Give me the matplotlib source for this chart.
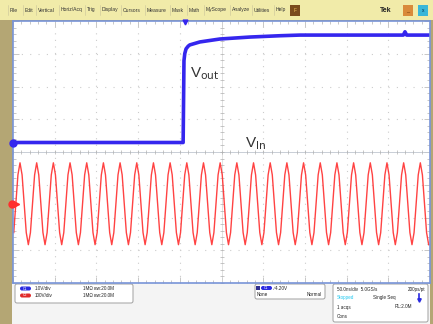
import numpy as np
import matplotlib.pyplot as plt
from matplotlib.patches import FancyBboxPatch, Rectangle

plt.rcParams['font.family'] = ['Liberation Sans', 'DejaVu Sans']

# scope settings (from the status panel)
ch1_scale = 1.0     # V/div
ch2_scale = 100.0   # V/div
ch1_offset = 0.29   # div
ch2_offset = -1.58  # div
trig_pos = 4.12     # div

# Vout on ch1: time in divisions, volts
vout_t = [0.0, 4.08, 4.10, 4.12, 4.15, 4.20, 4.24, 4.48, 4.96, 5.68, 6.40,
          6.88, 8.08, 9.28, 9.36, 9.40, 9.44, 10.0]
vout_v = [0.0, 0.0, 2.50, 2.72, 2.86, 2.94, 2.98, 3.07, 3.16, 3.22, 3.26,
          3.28, 3.28, 3.28, 3.28, 3.38, 3.28, 3.28]

# Vin on ch2: volts, one sample every 0.05 div starting at 0.018 div
vin_t0 = 0.018
vin_dt = 0.05
vin_v = [
    -88, 0, 88, 125, 88, 0, -88, -125,
    -88, 0, 88, 125, 88, 0, -88, -125,
    -88, 0, 88, 125, 88, 0, -88, -125,
    -88, 0, 88, 125, 88, 0, -88, -125,
    -88, 0, 88, 125, 88, 0, -88, -125,
    -88, 0, 88, 125, 88, 0, -88, -125,
    -88, 0, 88, 125, 88, 0, -88, -125,
    -88, 0, 88, 125, 88, 0, -88, -125,
    -88, 0, 88, 125, 88, 0, -88, -125,
    -88, 0, 88, 125, 88, 0, -88, -125,
    -88, 0, 88, 125, 88, 0, -88, -125,
    -88, 0, 88, 125, 88, 0, -88, -125,
    -88, 0, 88, 125, 88, 0, -88, -125,
    -88, 0, 88, 125, 88, 0, -88, -125,
    -88, 0, 88, 125, 88, 0, -88, -125,
    -88, 0, 88, 125, 88, 0, -88, -125,
    -88, 0, 88, 125, 88, 0, -88, -125,
    -88, 0, 88, 125, 88, 0, -88, -125,
    -88, 0, 88, 125, 88, 0, -88, -125,
    -88, 0, 88, 125, 88, 0, -88, -125,
    -88, 0, 88, 125, 88, 0, -88, -125,
    -88, 0, 88, 125, 88, 0, -88, -125,
    -88, 0, 88, 125, 88, 0, -88, -125,
    -88, 0, 88, 125, 88, 0, -88, -125,
    -88, 0, 88, 125, 88, 0, -88, -125,
]

menu_items = ["File", "Edit", "Vertical", "Horiz/Acq", "Trig", "Display",
              "Cursors", "Measure", "Mask", "Math", "MyScope", "Analyze",
              "Utilities", "Help"]
menu_x = [10, 25, 38, 61, 87, 102, 123, 147, 172, 189, 206, 232, 254, 276]

blue = "#3526ee"
red = "#ff2e2e"

fig = plt.figure(figsize=(4.33, 3.24), dpi=100, facecolor="#b4a674")

# background / UI layer in pixel coordinates
ui = fig.add_axes([0, 0, 1, 1], zorder=0)
ui.set_xlim(0, 433)
ui.set_ylim(324, 0)
ui.axis("off")

ui.add_patch(Rectangle((0, 0), 433, 19.5, color="#f1eba9", lw=0))
ui.add_patch(Rectangle((12, 283), 418, 41, color="#f4f4f4", lw=0))
for name, x in zip(menu_items, menu_x):
    ui.text(x, 10, name, fontsize=3.6, color="#333333", va="center")
    ui.plot([x - 2.5, x - 2.5], [5, 15], color="#c8c39a", lw=0.4)
ui.add_patch(Rectangle((290, 5), 10, 11, color="#7a4a1e", lw=0))
ui.text(295, 10.5, "F", fontsize=3.5, color="#f0c060", ha="center", va="center")
ui.text(380, 10, "Tek", fontsize=5, color="#222222", weight="bold", va="center")
ui.add_patch(Rectangle((403, 5), 10, 11, color="#d98a3a", lw=0))
ui.text(408, 11, "_", fontsize=4, color="#5a2a00", ha="center", va="center")
ui.add_patch(Rectangle((418, 5), 10, 11, color="#3ab6d8", lw=0))
ui.text(423, 10.5, "x", fontsize=3.5, color="#003050", ha="center", va="center")

# status boxes
def box(x, y, w, h):
    ui.add_patch(FancyBboxPatch((x, y), w, h, boxstyle="round,pad=0,rounding_size=2",
                                fc="white", ec="#a0a0a0", lw=0.7))

def pill(x, y, color, label):
    ui.add_patch(FancyBboxPatch((x, y - 2), 11, 4, boxstyle="round,pad=0,rounding_size=2",
                                fc=color, ec="none"))
    ui.text(x + 5.5, y, label, fontsize=2.5, color="white", ha="center", va="center")

box(15, 284, 118, 19)
pill(20, 288.5, "#2a2ae0", "C1")
ui.text(35, 288.5, "1.0V/div", fontsize=3.3, color="#222222", va="center")
ui.text(83, 288.5, "1M\u03a9 \u0299w:20.0M", fontsize=3.3, color="#222222", va="center")
pill(20, 295.5, "#e02a2a", "C2")
ui.text(35, 295.5, "100V/div", fontsize=3.3, color="#222222", va="center")
ui.text(83, 295.5, "1M\u03a9 \u0299w:20.0M", fontsize=3.3, color="#222222", va="center")

box(255, 284, 70, 15)
ui.add_patch(Rectangle((256, 286), 4, 4, color="#303090", lw=0))
pill(261, 288, "#2a2ae0", "C1")
ui.text(274, 288, "\u2215 4.20V", fontsize=3.3, color="#222222", va="center")
ui.text(257, 295, "None", fontsize=3.3, color="#222222", va="center")
ui.text(322, 295, "Normal", fontsize=3.3, color="#222222", va="center", ha="right")

box(333, 284, 95, 38)
ui.text(337, 289.5, "50.0ns/div  5.0GS/s", fontsize=3.3, color="#222222", va="center")
ui.text(425, 289.5, "200ps/pt", fontsize=3.3, color="#222222", va="center", ha="right")
ui.text(337, 298, "Stopped", fontsize=3.3, color="#20c8f0", va="center")
ui.text(373, 298, "Single Seq", fontsize=3.3, color="#222222", va="center")
ui.plot([419, 419], [294, 300], color="#2a2ae0", lw=1.2)
ui.plot([419], [300], marker="v", color="#2a2ae0", ms=2.5)
ui.text(337, 307, "1 acqs", fontsize=3.3, color="#222222", va="center")
ui.text(412, 307, "RL:2.0M", fontsize=3.3, color="#222222", va="center", ha="right")
ui.text(337, 316, "Cons", fontsize=3.3, color="#222222", va="center")

# graticule
ax = fig.add_axes([13 / 433, (324 - 283) / 324, 417 / 433, 262 / 324], zorder=1)
ax.set_facecolor("white")
ax.set_xlim(0, 10)
ax.set_ylim(-4, 4)
for i in range(1, 10):
    if i != 5:
        ax.axvline(i, color="#cccccc", lw=0.8, ls=(0, (1, 4.9)))
for j in range(-3, 4):
    if j != 0:
        ax.axhline(j, color="#cccccc", lw=0.8, ls=(0, (1, 6.5)))
ax.axvline(5, color="#d4d4d4", lw=0.5)
ax.axhline(0, color="#c0c6d0", lw=0.6)
ax.plot(np.arange(0, 10.01, 0.2), np.zeros(51), ls="none", marker="|",
        ms=3, mew=0.5, color="#b0b0b0")
ax.plot(np.full(41, 5.0), np.arange(-4, 4.01, 0.2), ls="none", marker="_",
        ms=3, mew=0.5, color="#b0b0b0")
ax.set_xticks(range(0, 11))
ax.set_yticks(range(-4, 5))
ax.set_xticks(np.arange(0, 10.01, 0.2), minor=True)
ax.set_yticks(np.arange(-4, 4.01, 0.2), minor=True)
ax.tick_params(which="both", direction="in", top=True, right=True,
               labelbottom=False, labelleft=False, color="#b0b0b0", width=0.5)
ax.tick_params(which="major", length=4)
ax.tick_params(which="minor", length=2)
for s in ax.spines.values():
    s.set_color("#7894d8")
    s.set_linewidth(1.2)

# traces
vin_t = vin_t0 + vin_dt * np.arange(len(vin_v))
ax.plot(vin_t, np.array(vin_v) / ch2_scale + ch2_offset, color=red, lw=1.0, alpha=0.9)
ax.plot(vout_t, np.array(vout_v) / ch1_scale + ch1_offset, color=blue, lw=2.6,
        solid_joinstyle="round")

# channel markers
ax.plot([0], [ch1_offset], marker="o", ms=5, color=blue, clip_on=False, zorder=5)
ax.plot([0.1], [ch2_offset], marker=">", ms=3, color=red, clip_on=False, zorder=5)
ax.plot([-0.02], [ch2_offset], marker="o", ms=5, color=red, clip_on=False, zorder=5)
ax.plot([trig_pos], [3.97], marker="v", ms=3.5, color=blue, clip_on=False, zorder=5)

ax.text(4.24, 2.29, r"V$_{\mathrm{out}}$", fontsize=11, color="#333333")
ax.text(5.56, 0.15, r"V$_{\mathrm{In}}$", fontsize=11, color="#333333")

fig.savefig("out.png", dpi=100, facecolor=fig.get_facecolor())
